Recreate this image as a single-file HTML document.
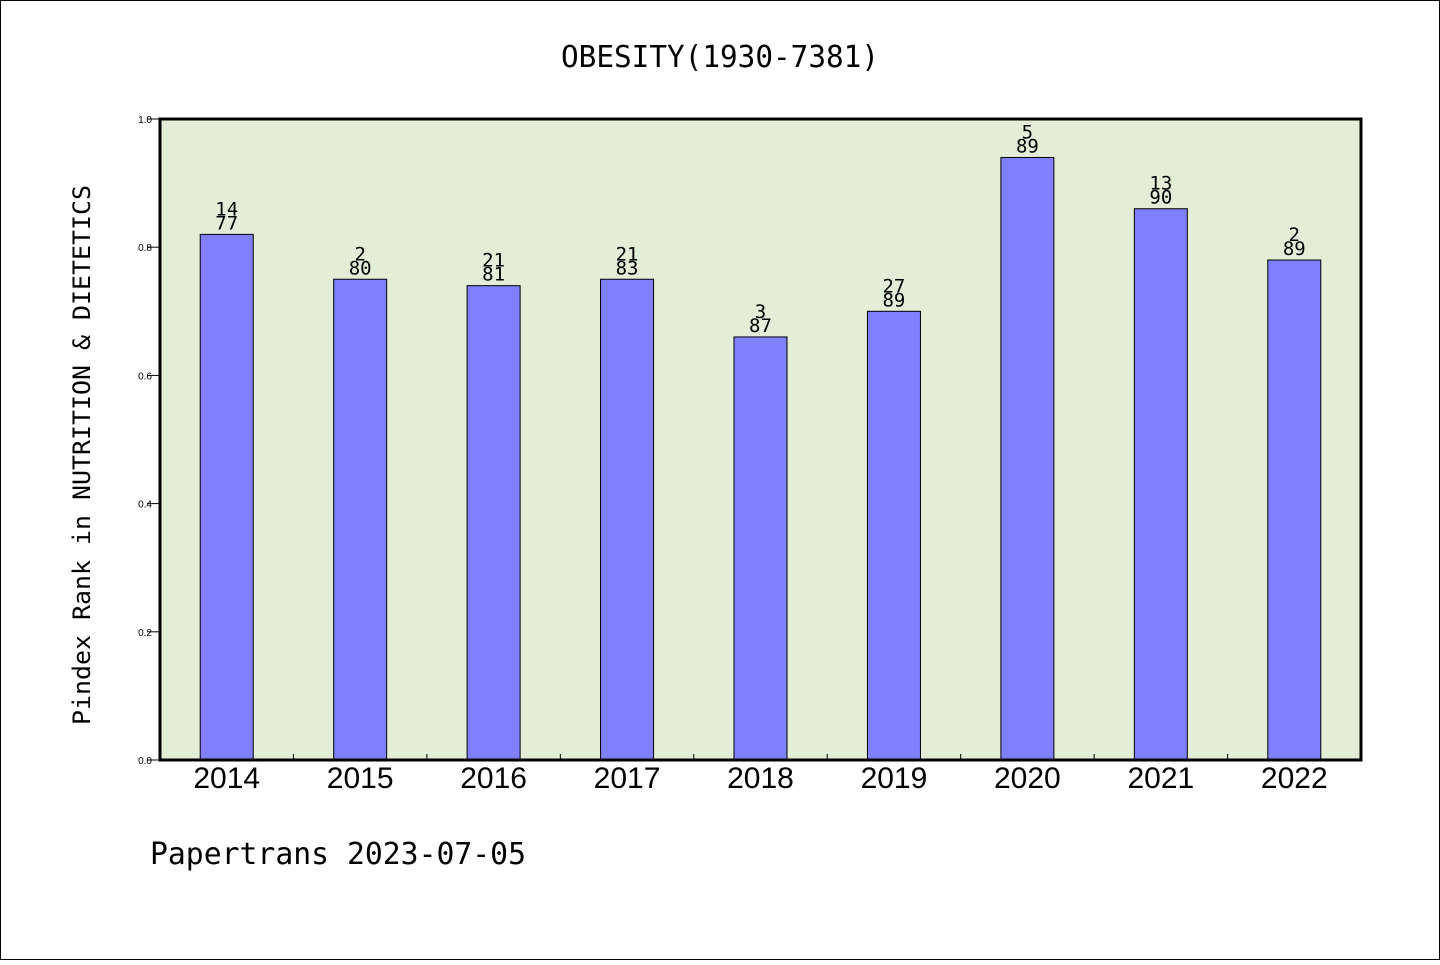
<!DOCTYPE html>
<html><head><meta charset="utf-8"><style>
body{margin:0;background:#fff}
svg text{font-family:"DejaVu Sans Mono","Liberation Mono",monospace;fill:#000}
</style></head><body>
<svg width="1440" height="960" xmlns="http://www.w3.org/2000/svg">
<rect x="0.5" y="0.5" width="1439" height="959" fill="#fff" stroke="#000"/>
<text x="720" y="67" text-anchor="middle" font-size="30" textLength="318" lengthAdjust="spacingAndGlyphs">OBESITY(1930-7381)</text>
<rect x="160" y="119" width="1201" height="641" fill="#e2efd6"/>
<g id="bars"></g>
<rect x="160" y="119" width="1201" height="641" fill="none" stroke="#000" stroke-width="3"/>
<text transform="translate(90,455) rotate(-90)" text-anchor="middle" font-size="24" textLength="540" lengthAdjust="spacingAndGlyphs">Pindex Rank in NUTRITION &amp; DIETETICS</text>
<text x="150" y="864" font-size="30" textLength="376" lengthAdjust="spacingAndGlyphs">Papertrans 2023-07-05</text>
</svg>
<script>
const categories=["2014","2015","2016","2017","2018","2019","2020","2021","2022"];
const values=[0.82,0.75,0.74,0.75,0.66,0.70,0.94,0.86,0.78];
const ranks=["14","2","21","21","3","27","5","13","2"];
const totals=["77","80","81","83","87","89","89","90","89"];
const yTicks=[0,0.2,0.4,0.6,0.8,1.0];
const NS="http://www.w3.org/2000/svg";
const X0=160,W=1201,Y0=760,H=641;
const bw=W/categories.length;
const xc=i=>X0+bw*(i+0.5);
const y=v=>Y0-v*H;
const g=document.getElementById('bars');
function mk(t,a){const e=document.createElementNS(NS,t);for(const k in a)e.setAttribute(k,a[k]);g.appendChild(e);return e;}
yTicks.forEach(v=>{
 const l=mk('line',{x1:147,x2:160,y1:y(v),y2:y(v),stroke:'#000'});
 
 
 const t=mk('text',{x:152,y:y(v)+4,'text-anchor':'end','font-size':10,style:'font-family:"Liberation Sans",sans-serif'});
 t.textContent=v.toFixed(1);
 
 
});
for(let i=1;i<categories.length;i++){
 const l=mk('line',{x1:X0+bw*i,x2:X0+bw*i,y1:Y0,y2:Y0-6,stroke:'#000'});
 
 
}
categories.forEach((c,i)=>{
 const r=mk('rect',{x:xc(i)-26.5,y:y(values[i]),width:53,height:Y0-y(values[i]),fill:'#8080ff',stroke:'#000','stroke-width':1});
 
 
 const t1=mk('text',{x:xc(i),y:y(values[i])-19,'text-anchor':'middle','font-size':19});
 t1.textContent=ranks[i];
 
 
 const t2=mk('text',{x:xc(i),y:y(values[i])-5,'text-anchor':'middle','font-size':19});
 t2.textContent=totals[i];
 
 
 const tx=mk('text',{x:xc(i),y:788,'text-anchor':'middle','font-size':30,style:'font-family:"Liberation Sans",sans-serif'});
 tx.textContent=c;
 
 
});
</script>
</body></html>
